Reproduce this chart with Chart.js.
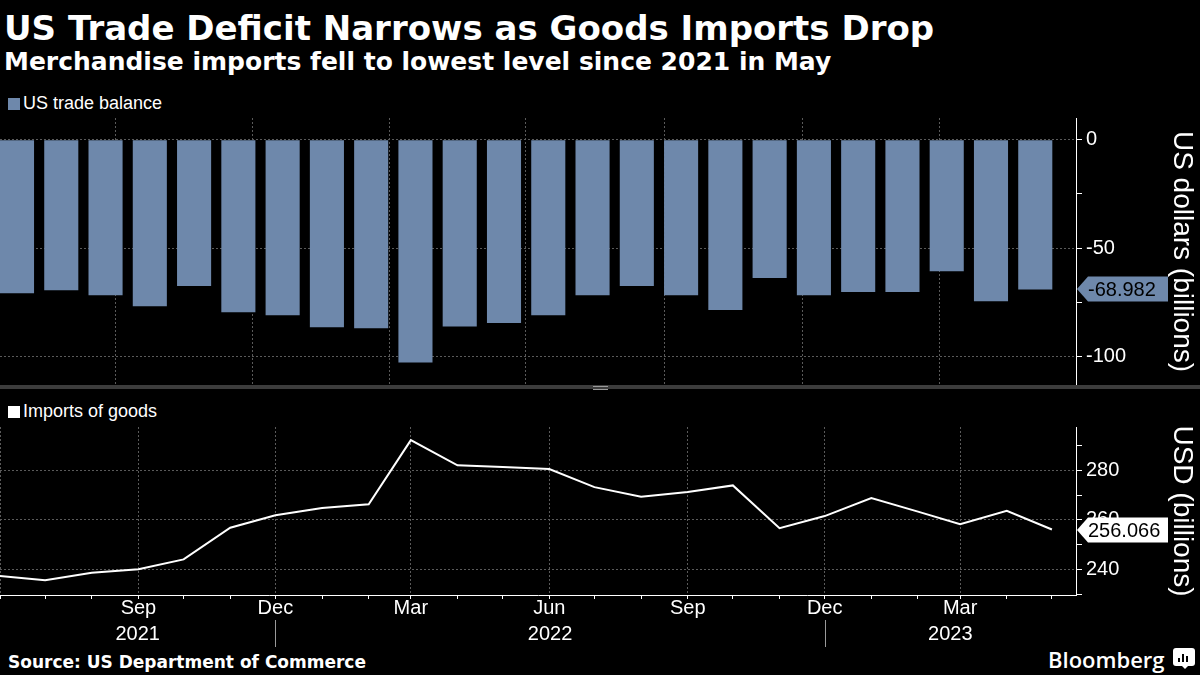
<!DOCTYPE html>
<html><head><meta charset="utf-8">
<script src="https://cdn.jsdelivr.net/npm/chart.js@4.4.0/dist/chart.umd.min.js"></script>
<style>
html,body{margin:0;padding:0;background:#000;width:1200px;height:675px;overflow:hidden;}
body{position:relative;font-family:"Liberation Sans",Arial,sans-serif;color:#fff;}
.abs{position:absolute;white-space:nowrap;line-height:1;}
#title{left:4px;top:8px;font:bold 34px "DejaVu Sans";}
#sub{left:4px;top:47px;font:bold 25px "DejaVu Sans";}
.leg{font:18px "Liberation Sans";}
.leg i{display:inline-block;width:12px;height:12px;margin-right:3px;vertical-align:-1px;}
#src{left:8px;top:652px;font:bold 17px "DejaVu Sans";}
#bb{left:1048px;top:644px;font:600 22px "Open Sans";letter-spacing:0px;}
#sep{left:0;top:385px;width:1200px;height:4px;background:#3c3c3c;}
#handle{left:593px;top:386px;width:15px;height:2px;border-top:1px solid #9a9a9a;border-bottom:1px solid #9a9a9a;}
canvas{position:absolute;left:0;}
#icon{left:1173px;top:648px;width:22px;height:18px;background:#fff;border-radius:3px;}
#icon b{position:absolute;bottom:4px;width:2px;background:#000;}
#icon:after{content:"";position:absolute;left:9px;top:18px;border-left:3px solid transparent;border-right:3px solid transparent;border-top:3px solid #fff;}
</style></head><body>
<div id="title" class="abs">US Trade Deficit Narrows as Goods Imports Drop</div>
<div id="sub" class="abs">Merchandise imports fell to lowest level since 2021 in May</div>
<div class="abs leg" style="left:8px;top:93px;"><i style="background:#6e88ab"></i>US trade balance</div>
<div id="sep" class="abs"></div><div id="handle" class="abs"></div>
<div class="abs leg" style="left:8px;top:401px;"><i style="background:#fff"></i>Imports of goods</div>
<div id="src" class="abs">Source: US Department of Commerce</div>
<div id="bb" class="abs">Bloomberg</div>
<div id="icon" class="abs"><b style="left:5px;height:4px"></b><b style="left:9px;height:8px"></b><b style="left:13px;height:6px"></b></div>
<canvas id="c1" width="1200" height="267" style="top:118px"></canvas>
<canvas id="c2" width="1200" height="223" style="top:427px"></canvas>
<script>
// ---- data ----
const months = ['2021-06','2021-07','2021-08','2021-09','2021-10','2021-11','2021-12',
  '2022-01','2022-02','2022-03','2022-04','2022-05','2022-06','2022-07','2022-08','2022-09',
  '2022-10','2022-11','2022-12','2023-01','2023-02','2023-03','2023-04','2023-05'];
const tradeBalance = [-70.7,-69.4,-71.6,-76.7,-67.4,-79.5,-80.9,-86.4,-86.9,-102.6,-86.0,-84.4,
  -80.9,-71.6,-67.4,-71.6,-78.5,-63.7,-71.6,-70.2,-70.2,-60.6,-74.4,-68.982];
const importsGoods = [237.3,235.6,238.6,240.0,244.0,256.8,261.8,264.8,266.3,292.2,282.0,281.3,
  280.5,273.2,269.3,271.2,273.9,256.6,261.5,268.8,263.3,258.2,263.6,256.066];
const monthNames = ['Jan','Feb','Mar','Apr','May','Jun','Jul','Aug','Sep','Oct','Nov','Dec'];
const yearLabels = ['2021','2022','2023'];
const balanceTicks = [0,-50,-100];
const importTicks = [240,260,280];

const FONT = '"Liberation Sans", Arial, sans-serif';
const GRID = '#5a5a5a';
const BAR = '#6e88ab';
const base = Date.UTC(2021,5,1);
const dayIdx = m => { const [y,mo] = m.split('-').map(Number); return (Date.UTC(y,mo-1,1)-base)/86400000; };
const monthDays = months.map(dayIdx);
const isQuarter = m => [3,6,9,12].includes(Number(m.split('-')[1]));
const quarterDays = new Set(months.filter(isQuarter).map(dayIdx));
const X_MAX = 715;
const BAR_MIN = -0.384, BAR_MAX = 23.92;
const tv = c => (c && c.tick) ? c.tick.value : NaN;
const noPad = s => { s.paddingTop = 0; s.paddingBottom = 0; s.paddingLeft = 0; s.paddingRight = 0; };

function badge(id, fill, color) {
  return { id, afterDraw(chart) {
    const ys = chart.scales.y, ctx = chart.ctx;
    const d = chart.data.datasets[0].data; const v = d[d.length-1].y;
    const y = Math.round(ys.getPixelForValue(v)), x = ys.left + 1;
    const h = 12.5, w = 91, a = 11;
    ctx.save();
    ctx.fillStyle = fill;
    ctx.beginPath(); ctx.moveTo(x, y); ctx.lineTo(x+a, y-h); ctx.lineTo(x+w, y-h);
    ctx.lineTo(x+w, y+h); ctx.lineTo(x+a, y+h); ctx.closePath(); ctx.fill();
    ctx.fillStyle = color; ctx.font = '20px ' + FONT; ctx.textBaseline = 'middle'; ctx.textAlign = 'left';
    ctx.fillText(v.toFixed(3), x+a, y+1);
    ctx.restore();
  }};
}

const yAxisCommon = (title) => ({
  position: 'right',
  afterFit: s => { s.width = 124; noPad(s); },
  border: { display: true, color: '#fff', width: 1, dash: [2,2] },
  grid: { drawTicks: true, tickLength: 6, tickColor: '#fff', tickBorderDash: [], lineWidth: 1 },
  ticks: { color: '#fff', font: { family: FONT, size: 20 }, padding: 4, includeBounds: false, autoSkip: false },
  title: { display: true, text: title, color: '#fff', font: { family: FONT, size: 28 }, padding: { top: 1, bottom: 0 } }
});

// ---- top chart: trade balance bars ----
const yTop = yAxisCommon('US dollars (billions)');
yTop.min = -113; yTop.max = 10;
yTop.ticks.stepSize = 25;
yTop.ticks.callback = v => balanceTicks.includes(v) ? String(v) : '';
yTop.grid.color = c => balanceTicks.includes(tv(c)) ? GRID : 'transparent';

new Chart(document.getElementById('c1'), {
  type: 'bar',
  data: { datasets: [{ data: tradeBalance.map((v,i) => ({x:i, y:v})), xAxisID: 'xb', yAxisID: 'y',
    backgroundColor: BAR, borderWidth: 0, categoryPercentage: 1, barPercentage: 0.77 }] },
  options: {
    responsive: false, animation: false, devicePixelRatio: 1,
    layout: { padding: 0 },
    plugins: { legend: { display: false }, tooltip: { enabled: false } },
    scales: {
      xb: { type: 'linear', min: BAR_MIN, max: BAR_MAX, display: false, offset: false, grace: 0, bounds: 'data',
        grid: { offset: false },
        afterBuildTicks: s => { s.min = BAR_MIN; s.max = BAR_MAX; s.ticks = [{value: BAR_MIN}, {value: BAR_MAX}]; },
        afterFit: s => { s.height = 0; noPad(s); } },
      xt: { type: 'linear', position: 'bottom', min: 0, max: X_MAX, offset: false,
        afterBuildTicks: s => { s.min = 0; s.max = X_MAX; s.ticks = monthDays.map(v => ({value: v})); },
        afterFit: s => { s.height = 0; noPad(s); },
        grid: { drawTicks: false, color: c => quarterDays.has(tv(c)) ? GRID : 'transparent' },
        border: { display: false, dash: [2,2] },
        ticks: { display: false } },
      y: yTop
    }
  },
  plugins: [badge('b1', BAR, '#000')]
});

// ---- bottom chart: imports line ----
const yBot = yAxisCommon('USD (billions)');
yBot.min = 229.6; yBot.max = 297.5;
yBot.ticks.stepSize = 10;
yBot.ticks.callback = v => importTicks.includes(v) ? String(v) : '';
yBot.grid.color = c => importTicks.includes(tv(c)) ? GRID : 'transparent';

const yearPlugin = { id: 'years', afterDraw(chart) {
  const xs = chart.scales.xt, ctx = chart.ctx;
  const decs = months.filter(m => m.endsWith('-12')).map(dayIdx).map(d => xs.getPixelForValue(d));
  const bounds = [xs.left, ...decs, xs.right];
  ctx.save();
  ctx.strokeStyle = '#9a9a9a'; ctx.lineWidth = 1;
  decs.forEach(p => { ctx.beginPath(); ctx.moveTo(Math.round(p)+0.5, 193); ctx.lineTo(Math.round(p)+0.5, 220); ctx.stroke(); });
  ctx.fillStyle = '#fff'; ctx.font = '20px ' + FONT; ctx.textAlign = 'center'; ctx.textBaseline = 'middle';
  yearLabels.forEach((yl, i) => ctx.fillText(yl, (bounds[i]+bounds[i+1])/2, 207));
  ctx.restore();
}};

new Chart(document.getElementById('c2'), {
  type: 'line',
  data: { datasets: [{ data: importsGoods.map((v,i) => ({x: monthDays[i], y: v})), xAxisID: 'xt', yAxisID: 'y',
    borderColor: '#fff', borderWidth: 2, pointRadius: 0, tension: 0, fill: false }] },
  options: {
    responsive: false, animation: false, devicePixelRatio: 1,
    layout: { padding: 0 },
    plugins: { legend: { display: false }, tooltip: { enabled: false } },
    scales: {
      xt: { type: 'linear', position: 'bottom', min: 0, max: X_MAX, offset: false,
        afterBuildTicks: s => { s.min = 0; s.max = X_MAX; s.ticks = monthDays.map(v => ({value: v})); },
        afterFit: s => { s.height = 55; noPad(s); },
        grid: { drawTicks: true, tickLength: 4, tickColor: '#fff', tickBorderDash: [],
          color: c => quarterDays.has(tv(c)) ? GRID : 'transparent' },
        border: { display: true, color: '#fff', width: 1, dash: [2,2] },
        ticks: { color: '#fff', font: { family: FONT, size: 20 }, padding: -3, autoSkip: false, maxRotation: 0,
          callback: (v, i) => (i > 0 && isQuarter(months[i])) ? monthNames[Number(months[i].split('-')[1])-1] : '' } },
      y: yBot
    }
  },
  plugins: [badge('b2', '#fff', '#000'), yearPlugin]
});
</script>
</body></html>
